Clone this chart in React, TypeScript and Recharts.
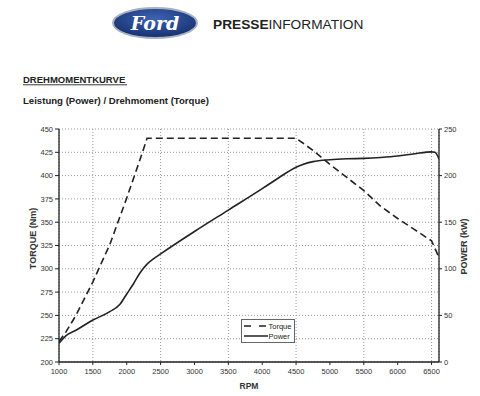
import React from 'react';
import { LineChart, Line, XAxis, YAxis, CartesianGrid, Legend, Label } from 'recharts';

const rpm = [1000, 1100, 1250, 1500, 1750, 1900, 2000, 2100, 2200, 2300, 2400, 2500, 3000, 3500, 4000, 4250, 4500, 4600, 4750, 5000, 5250, 5500, 5750, 6000, 6250, 6500, 6550, 6610];
const torqueNm = [222, 232, 250, 286, 326, 356, 376, 397, 418, 440, 440, 440, 440, 440, 440, 440, 440, 435, 427, 412, 398, 384, 367, 354, 342, 330, 322, 312];
const powerKw = [20, 28, 34, 45, 54, 62, 73, 84, 96, 105, 111, 116, 140, 163, 186, 198, 209, 212, 215, 217, 218, 218.5, 219.5, 221, 223.5, 225.5, 225, 218];

const rpmTicks = [1000, 1500, 2000, 2500, 3000, 3500, 4000, 4500, 5000, 5500, 6000, 6500];
const torqueTicks = [200, 225, 250, 275, 300, 325, 350, 375, 400, 425, 450];
const powerTicks = [0, 50, 100, 150, 200, 250];
const legendOrder = ['Torque', 'Power'];

const data = rpm.map((r, i) => ({ rpm: r, torque: torqueNm[i], power: powerKw[i] }));

const FONT = '"Liberation Sans", Arial, sans-serif';
const INK = '#222';

const LegendBox = (props: any) => {
  const payload = [...(props.payload || [])].sort(
    (a: any, b: any) => legendOrder.indexOf(a.value) - legendOrder.indexOf(b.value)
  );
  return (
    <svg width={55} height={25} style={{ display: 'block' }}>
      <rect x={0.5} y={0.5} width={53} height={23} fill="#fff" stroke="#666" strokeWidth={1} />
      {payload.map((p: any, i: number) => {
        const y = 7 + i * 10;
        const dash = p.payload && p.payload.strokeDasharray;
        return (
          <g key={i}>
            <line x1={3} y1={y} x2={27} y2={y} stroke={INK} strokeWidth={1.5} strokeDasharray={dash ? '7 8' : undefined} />
            <text x={27.5} y={y + 2.7} fontSize={7.5} fontFamily={FONT} fill={INK}>{p.value}</text>
          </g>
        );
      })}
    </svg>
  );
};

export default function App() {
  return (
    <div style={{ position: 'absolute', left: 0, top: 0, width: 480, height: 396, background: '#fff', overflow: 'hidden' }}>
      <svg width={480} height={115} style={{ position: 'absolute', left: 0, top: 0 }}>
        <defs>
          <radialGradient id="fordg" cx="50%" cy="35%" r="65%">
            <stop offset="0%" stopColor="#3f63b3" />
            <stop offset="100%" stopColor="#14306e" />
          </radialGradient>
        </defs>
        <ellipse cx={155} cy={23} rx={42} ry={15} fill="url(#fordg)" stroke="#aab0c0" strokeWidth={2} />
        <text x={155} y={30} textAnchor="middle" fill="#fff" fontFamily='"DejaVu Serif", serif' fontStyle="italic" fontWeight="bold" fontSize={19}>Ford</text>
        <text x={213} y={29} fontSize={13.7} fontFamily={FONT} fill={INK}>
          <tspan fontWeight="bold">PRESSE</tspan>INFORMATION
        </text>
        <text x={23} y={82.7} fontSize={9.5} fontWeight="bold" fontFamily={FONT} fill={INK}>DREHMOMENTKURVE</text>
        <line x1={23} y1={84.8} x2={127} y2={84.8} stroke={INK} strokeWidth={0.9} />
        <text x={23} y={104} fontSize={9.6} fontWeight="bold" fontFamily={FONT} fill={INK}>Leistung (Power) / Drehmoment (Torque)</text>
      </svg>
      <div style={{ position: 'absolute', left: 0, top: 0 }}>
        <LineChart width={480} height={396} data={data} margin={{ top: 129, right: 0, bottom: 0, left: 0 }}>
          <CartesianGrid yAxisId="left" stroke="#999" strokeDasharray="1 2" />
          <XAxis
            dataKey="rpm"
            type="number"
            domain={[1000, 6610]}
            ticks={rpmTicks}
            allowDataOverflow
            height={34}
            tickSize={3}
            tickMargin={4}
            axisLine={{ stroke: INK, strokeWidth: 1.5 }}
            tickLine={{ stroke: INK }}
            tick={{ fontSize: 7.5, fill: '#333', fontFamily: FONT }}
          >
            <Label value="RPM" position="insideBottom" offset={7} style={{ fontSize: 8.5, fontWeight: 'bold', fill: '#333', fontFamily: FONT }} />
          </XAxis>
          <YAxis
            yAxisId="left"
            domain={[200, 450]}
            ticks={torqueTicks}
            allowDataOverflow
            width={59}
            tickSize={4}
            tickMargin={2}
            axisLine={{ stroke: INK, strokeWidth: 1.3 }}
            tickLine={{ stroke: INK }}
            tick={{ fontSize: 7.5, fill: '#333', fontFamily: FONT }}
          >
            <Label
              content={(p: any) => {
                const vb = p.viewBox || { x: 0, y: 0, width: 0, height: 0 };
                const cx = vb.x + 33;
                const cy = vb.y + vb.height / 2 - 7;
                return (
                  <text x={cx} y={cy} transform={`rotate(-90 ${cx} ${cy})`} textAnchor="middle" dominantBaseline="central" fontSize={9} fontWeight="bold" fill="#333" fontFamily={FONT}>TORQUE (Nm)</text>
                );
              }}
            />
          </YAxis>
          <YAxis
            yAxisId="right"
            orientation="right"
            domain={[0, 250]}
            ticks={powerTicks}
            allowDataOverflow
            width={41}
            tickSize={3}
            tickMargin={2}
            axisLine={{ stroke: INK, strokeWidth: 1.3 }}
            tickLine={{ stroke: INK }}
            tick={{ fontSize: 7.5, fill: '#333', fontFamily: FONT }}
          >
            <Label
              content={(p: any) => {
                const vb = p.viewBox || { x: 0, y: 0, width: 0, height: 0 };
                const cx = vb.x + 25;
                const cy = vb.y + vb.height / 2 + 1;
                return (
                  <text x={cx} y={cy} transform={`rotate(-90 ${cx} ${cy})`} textAnchor="middle" dominantBaseline="central" fontSize={9} fontWeight="bold" fill="#333" fontFamily={FONT}>POWER (kW)</text>
                );
              }}
            />
          </YAxis>
          <Legend
            layout="vertical"
            align="center"
            verticalAlign="middle"
            content={<LegendBox />}
            wrapperStyle={{ left: 241, top: 319, width: 55, height: 25 }}
          />
          <Line yAxisId="left" dataKey="torque" name="Torque" type="linear" stroke={INK} strokeWidth={1.6} strokeDasharray="7 4" dot={false} isAnimationActive={false} />
          <Line yAxisId="right" dataKey="power" name="Power" type="monotone" stroke={INK} strokeWidth={1.6} dot={false} isAnimationActive={false} />
        </LineChart>
      </div>
    </div>
  );
}
